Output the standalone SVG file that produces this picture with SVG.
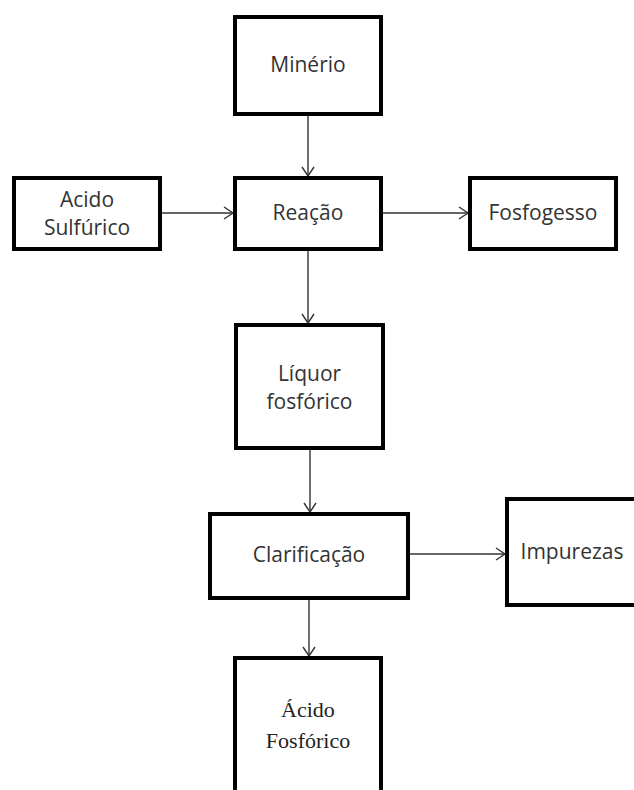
<svg xmlns="http://www.w3.org/2000/svg" width="634" height="790" viewBox="0 0 634 790">
  <defs>
    <marker id="arrow" markerWidth="12" markerHeight="14" refX="10" refY="7" orient="auto" markerUnits="userSpaceOnUse">
      <path d="M1,1 L10,7 L1,13" fill="none" stroke="#333" stroke-width="1.4"/>
    </marker>
    <style>
      .box { fill: #fff; stroke: #000; stroke-width: 4; }
      .lbl { font-family: "Open Sans", "Liberation Sans", sans-serif; font-size: 21px; fill: #333; text-anchor: middle; }
      .serif { font-family: "Liberation Serif", "DejaVu Serif", serif; font-size: 22px; fill: #222; text-anchor: middle; }
      .conn line { stroke: #333; stroke-width: 1.4; marker-end: url(#arrow); }
    </style>
  </defs>
  <rect width="634" height="790" fill="#fff"/>

  <!-- connectors -->
  <g id="connectors" class="conn">
    <line x1="308" y1="116" x2="308" y2="176"/>
    <line x1="162" y1="213" x2="233" y2="213"/>
    <line x1="383" y1="213" x2="468" y2="213"/>
    <line x1="308" y1="251" x2="308" y2="323"/>
    <line x1="310" y1="450" x2="310" y2="512"/>
    <line x1="410" y1="554" x2="505" y2="554"/>
    <line x1="309" y1="600" x2="309" y2="656"/>
  </g>

  <g id="minerio">
    <rect class="box" x="235" y="17" width="146" height="97"/>
    <text class="lbl" x="308" y="72">Minério</text>
  </g>

  <g id="acido-sulfurico">
    <rect class="box" x="14" y="178" width="146" height="71"/>
    <text class="lbl" x="87" y="207">Acido</text>
    <text class="lbl" x="87" y="235">Sulfúrico</text>
  </g>

  <g id="reacao">
    <rect class="box" x="235" y="178" width="146" height="71"/>
    <text class="lbl" x="308" y="220">Reação</text>
  </g>

  <g id="fosfogesso">
    <rect class="box" x="470" y="178" width="146" height="71"/>
    <text class="lbl" x="543" y="220">Fosfogesso</text>
  </g>

  <g id="liquor">
    <rect class="box" x="236" y="325" width="147" height="123"/>
    <text class="lbl" x="309.5" y="381">Líquor</text>
    <text class="lbl" x="309.5" y="409">fosfórico</text>
  </g>

  <g id="clarificacao">
    <rect class="box" x="210" y="514" width="198" height="84"/>
    <text class="lbl" x="309" y="562">Clarificação</text>
  </g>

  <g id="impurezas">
    <rect class="box" x="507" y="499" width="150" height="106"/>
    <text class="lbl" x="572" y="559">Impurezas</text>
  </g>

  <g id="acido-fosforico">
    <rect class="box" x="235" y="658" width="146" height="150"/>
    <text class="serif" x="308" y="717">Ácido</text>
    <text class="serif" x="308" y="748">Fosfórico</text>
  </g>
</svg>
